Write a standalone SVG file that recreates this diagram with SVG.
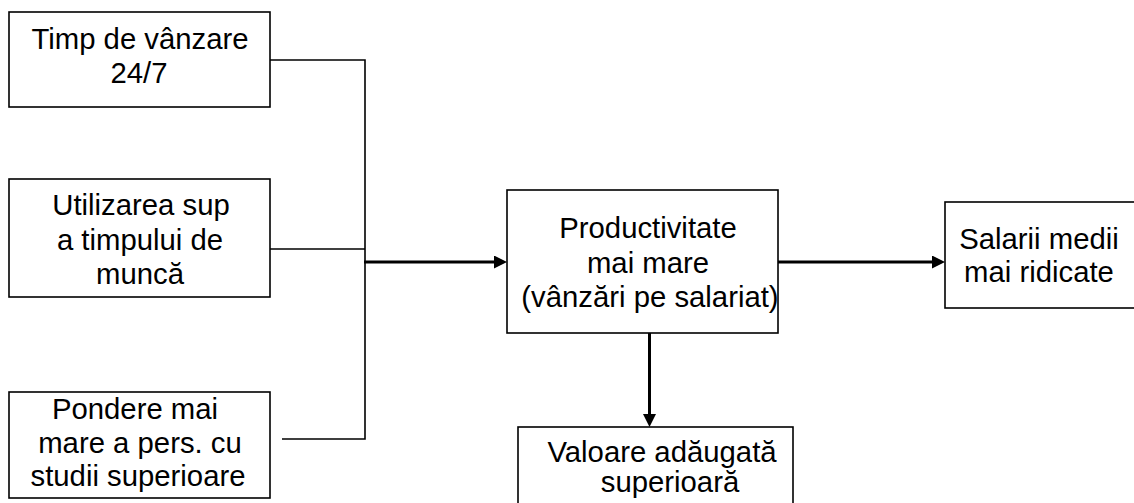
<svg xmlns="http://www.w3.org/2000/svg" width="1134" height="503" viewBox="0 0 1134 503">
  <style>
    .box { fill: #ffffff; stroke: #000000; stroke-width: 1.6; }
    .lbl { font-family: "Liberation Sans", Arial, sans-serif; font-size: 29.3px; fill: #000000; text-anchor: middle; }
    .thin { fill: none; stroke: #000000; stroke-width: 1.6; }
    .thick { fill: none; stroke: #000000; stroke-width: 3; }
  </style>
  <defs>
    <marker id="arrow" markerUnits="userSpaceOnUse" markerWidth="13" markerHeight="13" refX="3" refY="6.5" orient="auto">
      <path d="M0,0 L13,6.5 L0,13 Z" fill="#000000"/>
    </marker>
  </defs>
  <rect width="1134" height="503" fill="#ffffff"/>

  <g id="connectors">
    <!-- inputs merging into a single bus -->
    <polyline class="thin" points="270,60 365,60 365,439 282,439"/>
    <line class="thin" x1="270" y1="249" x2="365" y2="249"/>
    <!-- bus to productivity -->
    <line class="thick" x1="364" y1="262" x2="497" y2="262" marker-end="url(#arrow)"/>
    <!-- productivity to salaries -->
    <line class="thick" x1="778" y1="262" x2="935" y2="262" marker-end="url(#arrow)"/>
    <!-- productivity to added value -->
    <line class="thick" x1="649.5" y1="333" x2="649.5" y2="417" marker-end="url(#arrow)"/>
  </g>

  <g id="timp-vanzare">
    <rect class="box" x="9" y="12" width="261" height="95"/>
    <text class="lbl" x="140" y="49">Timp de vânzare</text>
    <text class="lbl" x="139" y="83">24/7</text>
  </g>

  <g id="utilizarea-timpului">
    <rect class="box" x="9" y="179" width="261" height="118"/>
    <text class="lbl" x="141" y="215">Utilizarea sup</text>
    <text class="lbl" x="140" y="250">a timpului de</text>
    <text class="lbl" x="140" y="284">muncă</text>
  </g>

  <g id="pondere-studii">
    <rect class="box" x="9" y="392" width="261" height="106"/>
    <text class="lbl" x="135" y="419">Pondere mai</text>
    <text class="lbl" x="140" y="453">mare a pers. cu</text>
    <text class="lbl" x="138" y="486">studii superioare</text>
  </g>

  <g id="productivitate">
    <rect class="box" x="507" y="190" width="271" height="143"/>
    <text class="lbl" x="648" y="238">Productivitate</text>
    <text class="lbl" x="648" y="273">mai mare</text>
    <text class="lbl" x="650" y="307">(vânzări pe salariat)</text>
  </g>

  <g id="salarii">
    <rect class="box" x="945" y="202" width="200" height="106"/>
    <text class="lbl" x="1039" y="249">Salarii medii</text>
    <text class="lbl" x="1039" y="282">mai ridicate</text>
  </g>

  <g id="valoare-adaugata">
    <rect class="box" x="518" y="427" width="275" height="90"/>
    <text class="lbl" x="662" y="462">Valoare adăugată</text>
    <text class="lbl" x="670" y="492">superioară</text>
  </g>
</svg>
